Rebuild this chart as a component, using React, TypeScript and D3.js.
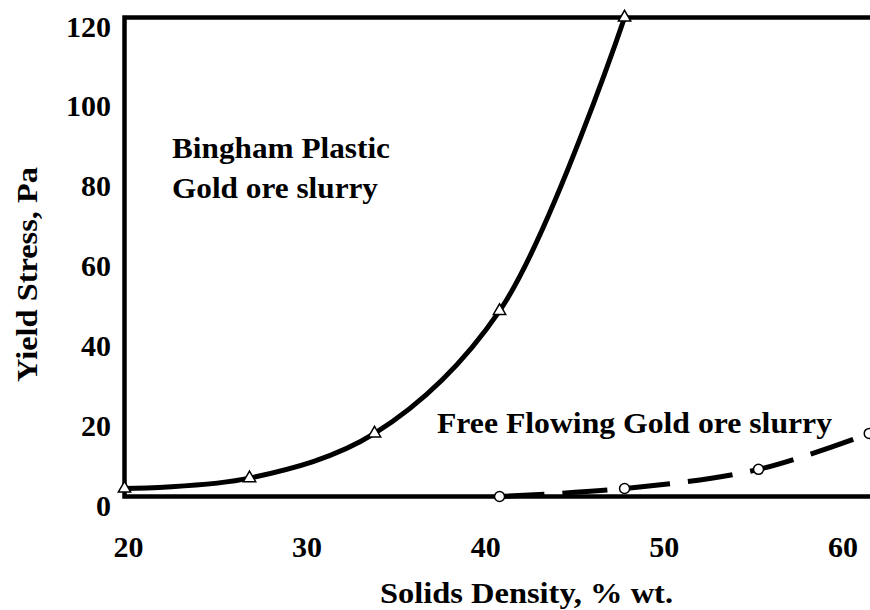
import React, { useRef, useEffect } from "react";
import * as d3 from "d3";

// Bingham plastic gold ore slurry (triangles, solid line)
const binghamDensity = [20, 27, 34, 41, 48];
const binghamStress = [2, 4.6, 15.8, 46.5, 120];

// Free flowing gold ore slurry (circles, dashed line)
const freeDensity = [41, 48, 55.5, 61.7];
const freeStress = [0, 2, 6.8, 15.8];

const xTicks = [20, 30, 40, 50, 60];
const yTicks = [0, 20, 40, 60, 80, 100, 120];

const xTitle = "Solids Density, % wt.";
const yTitle = "Yield Stress, Pa";
const binghamLabel = ["Bingham Plastic", "Gold ore slurry"];
const freeLabel = "Free Flowing Gold ore slurry";

const W = 870;
const H = 610;
const FONT = "'Liberation Serif', 'Times New Roman', serif";

function App() {
  const svgRef = useRef<SVGSVGElement>(null);

  useEffect(() => {
    const svg = d3.select(svgRef.current);
    svg.selectAll("*").remove();

    const x = d3.scaleLinear().domain([20, 62]).range([124.5, 874.6]);
    const y = d3.scaleLinear().domain([0, 120]).range([496.5, 17.5]);

    // frame (right side runs off the picture)
    svg
      .append("path")
      .attr("d", `M${W + 20},${y(120)}H${x(20)}V${y(0)}H${W + 20}`)
      .attr("fill", "none")
      .attr("stroke", "#000")
      .attr("stroke-width", 4.5)
      .attr("stroke-linecap", "square");

    const curve = d3.curveCatmullRom.alpha(0.5);

    const bingham = binghamDensity.map((d, i) => [d, binghamStress[i]] as [number, number]);
    const free = freeDensity.map((d, i) => [d, freeStress[i]] as [number, number]);

    const lineGen = d3
      .line<[number, number]>()
      .x((d) => x(d[0]))
      .y((d) => y(d[1]))
      .curve(curve);

    svg
      .append("path")
      .datum(bingham)
      .attr("d", lineGen)
      .attr("fill", "none")
      .attr("stroke", "#000")
      .attr("stroke-width", 5);

    svg
      .append("path")
      .datum(free)
      .attr("d", lineGen)
      .attr("fill", "none")
      .attr("stroke", "#000")
      .attr("stroke-width", 5)
      .attr("stroke-dasharray", "45 18");

    // markers
    const tri = d3.symbol().type(d3.symbolTriangle).size(66);
    svg
      .selectAll(".tri")
      .data(bingham)
      .enter()
      .append("path")
      .attr("class", "tri")
      .attr("d", tri)
      .attr("transform", (d) => `translate(${x(d[0])},${y(d[1])})`)
      .attr("fill", "#fff")
      .attr("stroke", "#000")
      .attr("stroke-width", 1.5);

    svg
      .selectAll(".dot")
      .data(free)
      .enter()
      .append("circle")
      .attr("class", "dot")
      .attr("cx", (d) => x(d[0]))
      .attr("cy", (d) => y(d[1]))
      .attr("r", 5)
      .attr("fill", "#fff")
      .attr("stroke", "#000")
      .attr("stroke-width", 1.5);

    const text = (sel: any) =>
      sel
        .attr("font-family", FONT)
        .attr("font-weight", "bold")
        .attr("fill", "#000");

    // tick labels
    svg
      .selectAll(".xt")
      .data(xTicks)
      .enter()
      .append("text")
      .attr("class", "xt")
      .call(text)
      .attr("font-size", 30)
      .attr("text-anchor", "middle")
      .attr("x", (d) => x(d) + 4)
      .attr("y", 557)
      .text((d) => d);

    svg
      .selectAll(".yt")
      .data(yTicks)
      .enter()
      .append("text")
      .attr("class", "yt")
      .call(text)
      .attr("font-size", 30)
      .attr("text-anchor", "end")
      .attr("x", 111)
      .attr("y", (d) => y(d) + 19)
      .text((d) => d);

    // axis titles
    svg
      .append("text")
      .call(text)
      .attr("font-size", 30)
      .attr("x", 380)
      .attr("y", 603)
      .attr("textLength", 293)
      .attr("lengthAdjust", "spacingAndGlyphs")
      .text(xTitle);

    svg
      .append("text")
      .call(text)
      .attr("font-size", 30)
      .attr("transform", "translate(37,382) rotate(-90)")
      .attr("textLength", 215)
      .attr("lengthAdjust", "spacingAndGlyphs")
      .text(yTitle);

    // annotations
    svg
      .append("text")
      .call(text)
      .attr("font-size", 30)
      .attr("x", 172)
      .attr("y", 158)
      .attr("textLength", 218)
      .attr("lengthAdjust", "spacingAndGlyphs")
      .text(binghamLabel[0]);

    svg
      .append("text")
      .call(text)
      .attr("font-size", 30)
      .attr("x", 172)
      .attr("y", 198)
      .attr("textLength", 206)
      .attr("lengthAdjust", "spacingAndGlyphs")
      .text(binghamLabel[1]);

    svg
      .append("text")
      .call(text)
      .attr("font-size", 30)
      .attr("x", 437)
      .attr("y", 433)
      .attr("textLength", 395)
      .attr("lengthAdjust", "spacingAndGlyphs")
      .text(freeLabel);
  }, []);

  return (
    <svg
      ref={svgRef}
      width={W}
      height={H}
      style={{ position: "absolute", left: 0, top: 0, background: "#fff" }}
    ></svg>
  );
}

export default App;
